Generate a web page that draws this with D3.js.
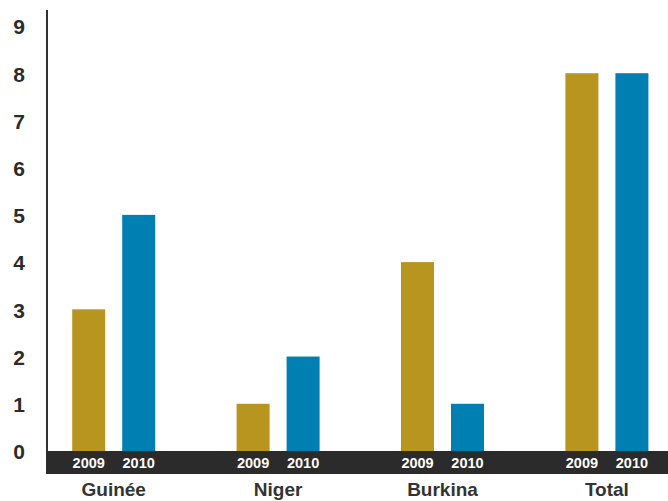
<!DOCTYPE html>
<html>
<head>
<meta charset="utf-8">
<script src="https://cdn.jsdelivr.net/npm/d3@7"></script>
<style>
  body { margin: 0; background: #fff; }
  svg { display: block; font-family: "Liberation Sans", Arial, sans-serif; }
</style>
</head>
<body>
<svg id="chart" width="668" height="501"></svg>
<script>
const categories = ["Guinée", "Niger", "Burkina", "Total"];
const years = ["2009", "2010"];
const values2009 = [3, 1, 4, 8];
const values2010 = [5, 2, 1, 8];
const yTicks = [0, 1, 2, 3, 4, 5, 6, 7, 8, 9];

const colors = { "2009": "#b8951e", "2010": "#007fb2" };

let svg = d3.select("#chart"),
    width = 668,
    height = 501;

let y = d3.scaleLinear()
    .domain([0, 9])
    .range([451, 26]);

// group centres
let x = d3.scalePoint()
    .domain(categories)
    .range([113.7, 606.9]);

let xYear = d3.scaleBand()
    .domain(years)
    .range([-41.5, 41.5])
    .paddingInner(0.34);

let rows = categories.map((c, i) => ({
    name: c,
    values: [
        { year: "2009", value: values2009[i] },
        { year: "2010", value: values2010[i] }
    ]
}));

// y axis line
svg.append("line")
    .attr("x1", 47).attr("x2", 47)
    .attr("y1", 10).attr("y2", 451)
    .attr("stroke", "#333")
    .attr("stroke-width", 2);

// y tick labels
svg.append("g")
    .selectAll("text")
    .data(yTicks)
    .enter().append("text")
    .attr("x", 19)
    .attr("y", d => y(d) + 1)
    .attr("dy", "0.35em")
    .attr("text-anchor", "middle")
    .attr("font-size", 21)
    .attr("font-weight", "bold")
    .attr("fill", "#2b2b2b")
    .text(d => d);

// bars
let group = svg.append("g")
    .selectAll("g")
    .data(rows)
    .enter().append("g")
    .attr("transform", d => "translate(" + x(d.name) + ",0)");

group.selectAll("rect")
    .data(d => d.values)
    .enter().append("rect")
    .attr("x", d => xYear(d.year))
    .attr("y", d => y(d.value))
    .attr("width", xYear.bandwidth())
    .attr("height", d => y(0) - y(d.value))
    .attr("fill", d => colors[d.year]);

// dark band under the bars
svg.append("rect")
    .attr("x", 46)
    .attr("y", y(0))
    .attr("width", width - 46)
    .attr("height", 23)
    .attr("fill", "#2b2b2b");

// labels go on top of the band
let labels = svg.append("g")
    .selectAll("g")
    .data(rows)
    .enter().append("g")
    .attr("transform", d => "translate(" + x(d.name) + ",0)");

labels.selectAll("text.year")
    .data(d => d.values)
    .enter().append("text")
    .attr("class", "year")
    .attr("x", d => xYear(d.year) + xYear.bandwidth() / 2)
    .attr("y", y(0) + 12)
    .attr("dy", "0.35em")
    .attr("text-anchor", "middle")
    .attr("font-size", 14.5)
    .attr("font-weight", "bold")
    .attr("fill", "#fff")
    .text(d => d.year);

// category labels
labels.append("text")
    .attr("x", 0)
    .attr("y", 496)
    .attr("text-anchor", "middle")
    .attr("font-size", 19)
    .attr("font-weight", "bold")
    .attr("fill", "#333")
    .text(d => d.name);
</script>
</body>
</html>
